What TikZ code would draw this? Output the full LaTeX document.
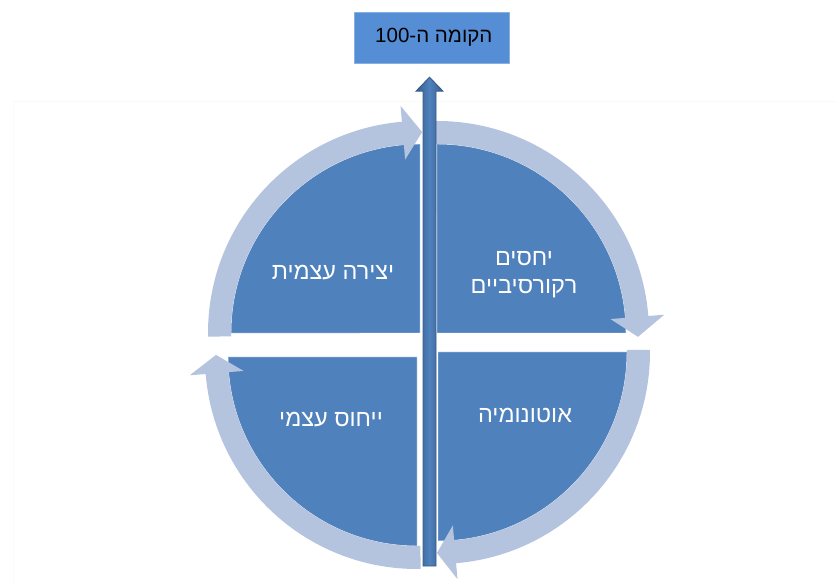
\documentclass[tikz,border=0pt]{standalone}
\usepackage{fontspec}
\setmainfont{Liberation Sans}
\newfontfamily\hebfont[Script=Hebrew]{Liberation Sans}
\TeXXeTstate=1
\usetikzlibrary{calc,positioning}
\definecolor{quadblue}{RGB}{79,129,189}
\definecolor{bandblue}{RGB}{180,195,222}
\definecolor{shaftdark}{RGB}{56,93,138}
\definecolor{boxblue}{RGB}{85,142,213}
\tikzset{
  quadrant/.style={fill=quadblue, draw=white, thin},
  band/.style={fill=bandblue},
  shaft/.style={draw=shaftdark, thick, left color=shaftdark, right color=shaftdark, middle color=quadblue},
  floorbox/.style={
    rectangle,
    fill=boxblue,
    draw=boxblue!70!white,
    minimum width=4.65cm,
    minimum height=1.53cm,
    text=black,
    font=\hebfont\fontsize{17.5}{20}\selectfont},
  quadtext/.style={text=white, align=center, font=\hebfont\fontsize{20}{24}\selectfont},
}
% sector: centre, start angle, end angle
\newcommand{\quadsector}[3]{%
  \path[quadrant] (#1) -- ($(#1)+(#2:189)$) arc[start angle=#2, end angle=#3, radius=5.67cm] -- cycle;}
% curved arrow: centre, start angle, head base angle, tip angle
\newcommand{\cyclearrow}[4]{%
  \fill[band] ($(#1)+(#2:212)$) arc[start angle=#2, end angle=#3, radius=6.36cm]
    -- ($(#1)+(#3:228)$) -- ($(#1)+(#4:201)$) -- ($(#1)+(#3:174)$)
    -- ($(#1)+(#3:189)$) arc[start angle=#3, end angle=#2, radius=5.67cm] -- cycle;}

\begin{document}
\begin{tikzpicture}[x=0.03cm, y=0.03cm]
    \useasboundingbox (0,0) rectangle (837,585);
    \draw[black!2] (13,0) |- (837,484);

    \coordinate (tlc) at (420,252);
    \coordinate (trc) at (437,252);
    \coordinate (blc) at (417,228);
    \coordinate (brc) at (438,233);

    % quadrants
    \quadsector{tlc}{90}{180}
    \quadsector{trc}{0}{90}
    \quadsector{blc}{180}{270}
    \quadsector{brc}{270}{360}

    % arrows round the circle
    \cyclearrow{tlc}{181}{94.9}{89.4}
    \cyclearrow{trc}{93}{4.6}{-1.1}
    \cyclearrow{brc}{0.6}{-85.1}{-90.3}
    \cyclearrow{blc}{-89}{-175.4}{-180.6}

    \node[quadtext] (creation) at (333,312) {\beginR יצירה עצמית\endR};
    \node[quadtext] (recursive) at (524,310.5) {\beginR יחסים\endR\\\beginR רקורסיביים\endR};
    \node[quadtext] (attribution) at (331,165) {\beginR ייחוס עצמי\endR};
    \node[quadtext] (autonomy) at (525,170) {\beginR אוטונומיה\endR};

    \node[floorbox] (floor) at (431.5,547.5) {\hspace{10\pgflinewidth}\beginR הקומה ה-\beginL 100\endL\endR};

    % upward shaft
    \coordinate (tip) at ($(floor.south)+(-2,-14)$);
    \coordinate (foot) at (429.5,19);
    \path[shaft] ($(foot)+(-6.5,0)$) -- ($(tip)+(-6.5,-14)$) -- ($(tip)+(-13.5,-14)$) -- (tip)
        -- ($(tip)+(13.5,-14)$) -- ($(tip)+(6.5,-14)$) -- ($(foot)+(6.5,0)$) -- cycle;
\end{tikzpicture}
\end{document}
